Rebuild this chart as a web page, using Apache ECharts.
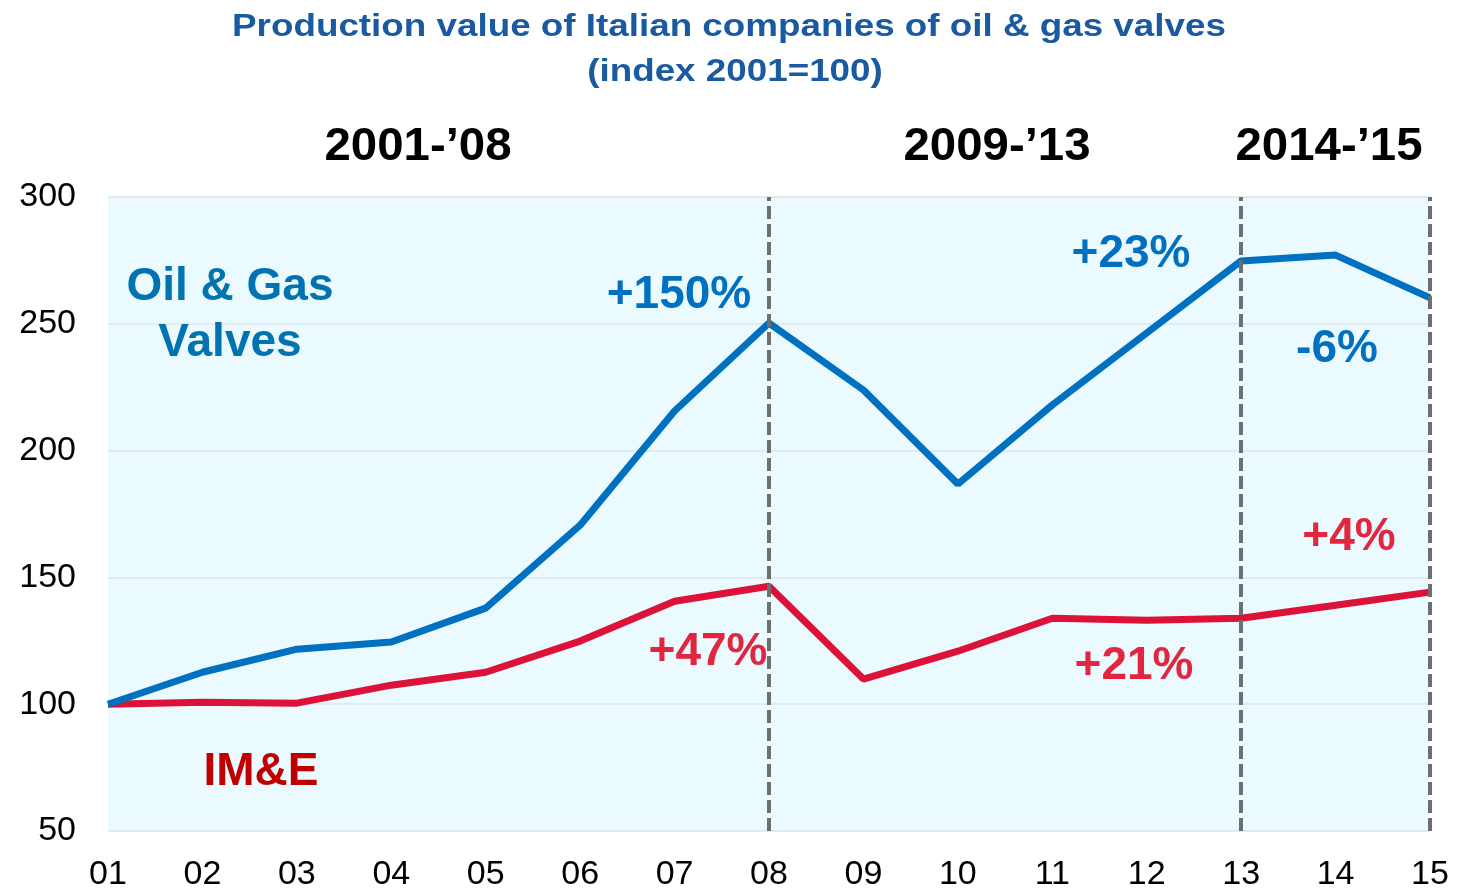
<!DOCTYPE html>
<html>
<head>
<meta charset="utf-8">
<script src="https://cdn.jsdelivr.net/npm/echarts@6/dist/echarts.min.js"></script>
<style>html,body{margin:0;padding:0;background:#fff}#c{width:1457px;height:892px}</style>
</head>
<body>
<div id="c"></div>
<script>
const categories = ['01','02','03','04','05','06','07','08','09','10','11','12','13','14','15'];
const oilGasValves = [100, 112.6, 121.7, 124.5, 137.9, 170.6, 215.6, 250.3, 223.9, 186.8, 218, 246.4, 274.8, 277.1, 260.2];
const imeValues = [100, 100.8, 100.4, 107.5, 112.6, 124.9, 140.6, 146.5, 109.9, 120.9, 133.9, 133.1, 133.9, 139, 144.2];
const yTicks = [50, 100, 150, 200, 250, 300];
const periodBreaks = ['08', '13', '15'];

const FONT = '"Liberation Sans", Arial, sans-serif';
const BLUE = '#0070C0';
const RED = '#DC1238';
const RED_TXT = '#E3263F';

function txt(x, y, text, size, fill, sx) {
  return {
    type: 'text', x: x, y: y, z: 100, scaleX: sx || 1,
    style: { text: text, fill: fill, font: 'bold ' + size + 'px ' + FONT, align: 'center', verticalAlign: 'middle' }
  };
}

const chart = echarts.init(document.getElementById('c'));
chart.setOption({
  animation: false,
  grid: { left: 108, right: 27, top: 197, bottom: 60, show: true, backgroundColor: '#EBFAFE', borderWidth: 0 },
  xAxis: {
    type: 'category', data: categories, boundaryGap: false,
    axisLine: { show: false }, axisTick: { show: false },
    axisLabel: { color: '#000', fontSize: 34, fontFamily: FONT, margin: 27 }
  },
  yAxis: {
    type: 'value', min: yTicks[0], max: yTicks[yTicks.length - 1], interval: 50,
    axisLine: { show: false }, axisTick: { show: false },
    axisLabel: { color: '#000', fontSize: 34, fontFamily: FONT, margin: 32 },
    splitLine: { lineStyle: { color: '#DCE6EC', width: 1.5 } }
  },
  series: [
    {
      name: 'IM&E', type: 'line', data: imeValues, symbol: 'none',
      lineStyle: { color: RED, width: 7 }, z: 3
    },
    {
      name: 'Oil & Gas Valves', type: 'line', data: oilGasValves, symbol: 'none',
      lineStyle: { color: BLUE, width: 7 }, z: 4,
      markLine: {
        silent: true, symbol: 'none', label: { show: false },
        lineStyle: { color: '#6E6E6E', width: 4, type: [13, 5] },
        data: periodBreaks.map(c => ({ xAxis: c }))
      }
    }
  ],
  graphic: [
    txt(729, 27, 'Production value of Italian companies of oil & gas valves', 32, '#1A5AA0', 1.15),
    txt(735, 72, '(index 2001=100)', 32, '#1A5AA0', 1.15),
    txt(418, 147, "2001-\u201908", 46, '#000', 1.03),
    txt(997, 147, "2009-\u201913", 46, '#000', 1.03),
    txt(1329, 147, "2014-\u201915", 46, '#000', 1.03),
    txt(230, 287, 'Oil & Gas', 46, '#0073B0'),
    txt(230, 343, 'Valves', 46, '#0073B0'),
    txt(261, 772, 'IM&E', 46, '#C00000'),
    txt(679, 295, '+150%', 46, BLUE),
    txt(1131, 254, '+23%', 46, BLUE),
    txt(1337, 349, '-6%', 46, BLUE),
    txt(708, 652, '+47%', 46, RED_TXT),
    txt(1134, 666, '+21%', 46, RED_TXT),
    txt(1349, 537, '+4%', 46, RED_TXT)
  ]
});
</script>
</body>
</html>
